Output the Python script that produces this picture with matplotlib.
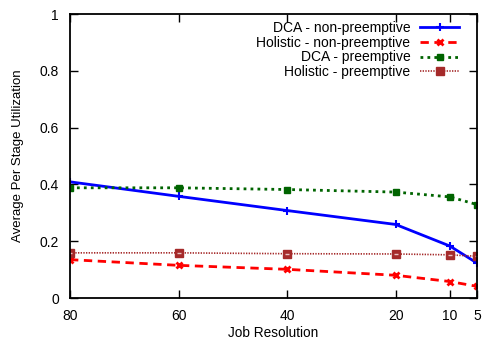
import matplotlib
matplotlib.use("Agg")
import matplotlib.pyplot as plt

plt.rcParams['font.family'] = ['Liberation Sans', 'DejaVu Sans']

resolution = [80, 60, 40, 20, 10, 5]
dca_nonpre = [0.409, 0.358, 0.308, 0.259, 0.183, 0.123]
hol_nonpre = [0.135, 0.115, 0.101, 0.080, 0.058, 0.041]
dca_pre = [0.388, 0.388, 0.382, 0.373, 0.356, 0.329]
hol_pre = [0.159, 0.159, 0.156, 0.155, 0.152, 0.147]

fig = plt.figure(figsize=(4.82, 3.39), dpi=100)
ax = fig.add_axes([70 / 482, 1 - 298 / 339, 407 / 482, 284 / 339])

ax.plot(resolution, dca_nonpre, color='#0000ff', lw=2, ls='-', marker='+',
        ms=6, mew=1.5, label='DCA - non-preemptive')
ax.plot(resolution, hol_nonpre, color='#ff0000', lw=2, ls=(0, (3, 2)), marker='x',
        ms=5, mew=2, label='Holistic - non-preemptive')
ax.plot(resolution, dca_pre, color='#006400', lw=2, ls=(0, (1, 1.5)), marker='s',
        ms=5, mew=1, label='DCA - preemptive')
ax.plot(resolution, hol_pre, color='#a52a2a', lw=1.2, ls=(0, (0.8, 0.8)), marker='s',
        ms=6, mfc='#a52a2a', mec='#a52a2a', label='Holistic - preemptive')
ax.plot(resolution, hol_pre, ls='none', marker='_', ms=3, mew=1, color='#e8c0c0')

ax.set_xlim(80, 5)
ax.set_ylim(0, 1)
ax.set_xticks(resolution)
ax.set_yticks([0, 0.2, 0.4, 0.6, 0.8, 1])
ax.set_yticklabels(['0', '0.2', '0.4', '0.6', '0.8', '1'])
ax.tick_params(direction='in', length=6, width=1, top=True, right=True,
               labelsize=10, pad=8)
for s in ax.spines.values():
    s.set_linewidth(1.3)

ax.set_xlabel('Job Resolution', fontsize=9.8, labelpad=2)
ax.set_ylabel('Average Per Stage Utilization', fontsize=9.5, labelpad=11)

leg = ax.legend(loc='upper right', bbox_to_anchor=(459 / 482, 1 - 21 / 339),
                bbox_transform=fig.transFigure, frameon=False, markerfirst=False,
                borderpad=0, handlelength=2.8, handletextpad=0.7,
                labelspacing=0.05, fontsize=10, borderaxespad=0)

fig.savefig('out.png', dpi=100)
